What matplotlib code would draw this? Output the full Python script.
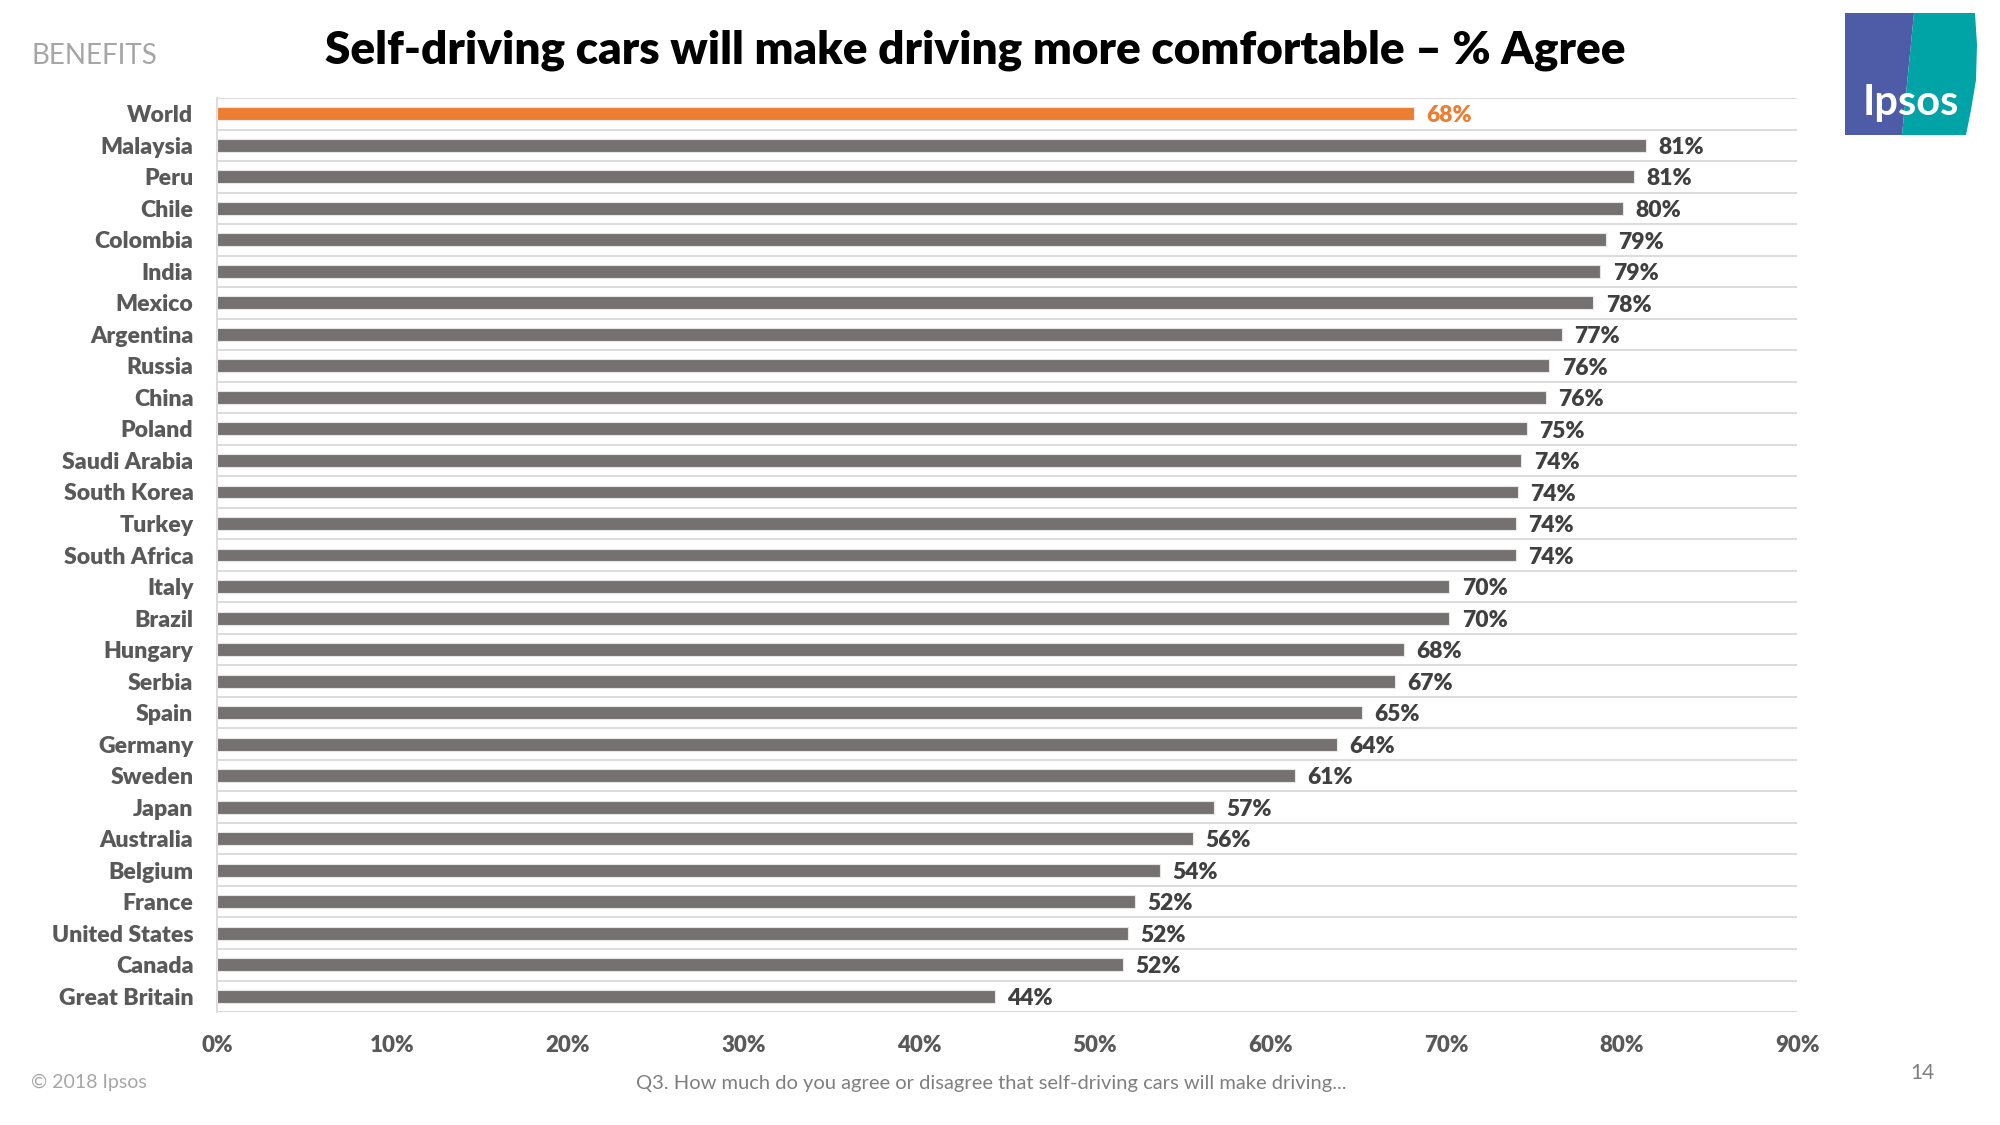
import matplotlib
matplotlib.use("Agg")
import matplotlib.pyplot as plt
from matplotlib.patches import Polygon

plt.rcParams['font.family'] = ['Lato', 'DejaVu Sans']

countries = ["World", "Malaysia", "Peru", "Chile", "Colombia", "India", "Mexico",
             "Argentina", "Russia", "China", "Poland", "Saudi Arabia", "South Korea",
             "Turkey", "South Africa", "Italy", "Brazil", "Hungary", "Serbia", "Spain",
             "Germany", "Sweden", "Japan", "Australia", "Belgium", "France",
             "United States", "Canada", "Great Britain"]
values = [68.2, 81.4, 80.7, 80.1, 79.1, 78.8, 78.4, 76.6, 75.9, 75.7, 74.6, 74.3,
          74.1, 74.0, 74.0, 70.2, 70.2, 67.6, 67.1, 65.2, 63.8, 61.4, 56.8, 55.6,
          53.7, 52.3, 51.9, 51.6, 44.3]
labels = ["68%", "81%", "81%", "80%", "79%", "79%", "78%", "77%", "76%", "76%",
          "75%", "74%", "74%", "74%", "74%", "70%", "70%", "68%", "67%", "65%",
          "64%", "61%", "57%", "56%", "54%", "52%", "52%", "52%", "44%"]
xticks = [0, 10, 20, 30, 40, 50, 60, 70, 80, 90]

ORANGE = "#ED7D31"
GREY = "#767171"
GRID = "#D9D9D9"

fig = plt.figure(figsize=(20, 11.25), dpi=100)
ax = fig.add_axes([0.1085, 0.1004, 0.79, 0.8125])

ypos = list(range(len(countries)))
colors = [ORANGE] + [GREY] * (len(countries) - 1)
ax.barh(ypos, values, height=0.41, color=colors, edgecolor="#E7E6E6", linewidth=0.8, zorder=3)

for i, (v, lab) in enumerate(zip(values, labels)):
    ax.text(v + 0.7, i + 0.07, lab, va="center", ha="left", fontsize=16.5, fontweight="heavy",
            color=ORANGE if i == 0 else "#404040", zorder=4)

ax.set_xlim(0, 90)
ax.set_ylim(len(countries) - 0.5, -0.5)
for k in range(len(countries) + 1):
    ax.axhline(k - 0.5, color=GRID, linewidth=2.2 if k == len(countries) else 1.3, zorder=1)

ax.set_yticks(ypos)
ax.set_yticklabels(countries, fontsize=16.6, fontweight="heavy", color="#595959")
ax.set_xticks(xticks)
ax.set_xticklabels([f"{t}%" for t in xticks], fontsize=16, fontweight="heavy", color="#595959")
ax.tick_params(axis="both", length=0)
ax.tick_params(axis="y", pad=17)
ax.tick_params(axis="x", pad=16.5)
for s in ["top", "right", "bottom"]:
    ax.spines[s].set_visible(False)
ax.spines["left"].set_color(GRID)
ax.spines["left"].set_linewidth(1.3)

fig.text(0.4875, 1 - 50 / 1125, "Self-driving cars will make driving more comfortable – % Agree",
         ha="center", va="center", fontsize=33, fontweight="heavy", color="black")
fig.text(31 / 2000, 1 - 56 / 1125, "BENEFITS", ha="left", va="center", fontsize=20, color="#A6A6A6")
fig.text(31 / 2000, 1 - 1082 / 1125, "© 2018 Ipsos", ha="left", va="center", fontsize=14, color="#A6A6A6")
fig.text(991 / 2000, 1 - 1083 / 1125,
         "Q3. How much do you agree or disagree that self-driving cars will make driving...",
         ha="center", va="center", fontsize=14.5, color="#7F7F7F")
fig.text(1922 / 2000, 1 - 1073 / 1125, "14", ha="center", va="center", fontsize=15, color="#7F7F7F")

# Ipsos logo
def fx(px):
    return px / 2000
def fy(py):
    return 1 - py / 1125
purple = Polygon([(fx(1845), fy(13)), (fx(1914), fy(13)), (fx(1902), fy(135)), (fx(1845), fy(135))],
                 closed=True, transform=fig.transFigure, facecolor="#4E5BA6", edgecolor="none")
teal = Polygon([(fx(1914), fy(13)), (fx(1975), fy(13)), (fx(1977), fy(45)), (fx(1976), fy(80)),
                (fx(1971), fy(110)), (fx(1966), fy(135)), (fx(1902), fy(135))],
               closed=True, transform=fig.transFigure, facecolor="#00A3A6", edgecolor="none")
fig.patches.extend([purple, teal])
fig.text(fx(1911), fy(103), "Ipsos", ha="center", va="center", fontsize=30, fontweight="bold",
         color="white")

fig.savefig("out.png", dpi=100)
